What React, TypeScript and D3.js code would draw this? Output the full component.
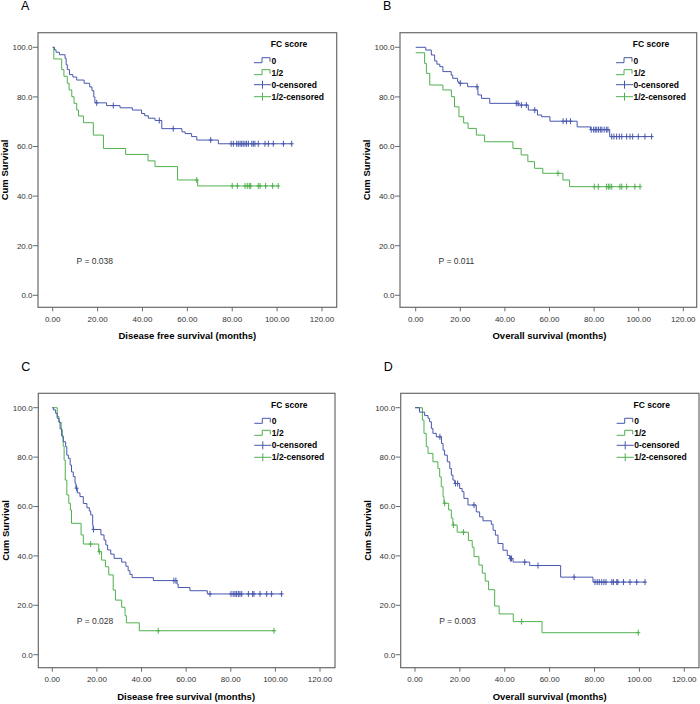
import React from 'react';
import * as d3 from 'd3';

type Step = [number, number];

const xTicks = [0, 20, 40, 60, 80, 100, 120];
const yTicks = [0, 20, 40, 60, 80, 100];
const legendTitle = 'FC score';
const legendLabels = ['0', '1/2', '0-censored', '1/2-censored'];
const panelLetters = ['A', 'B', 'C', 'D'];
const xTitles = [
  'Disease free survival (months)',
  'Overall survival (months)',
  'Disease free survival (months)',
  'Overall survival (months)',
];
const yTitle = 'Cum Survival';
const pValues = ['P = 0.038', 'P = 0.011', 'P = 0.028', 'P = 0.003'];

// Panel A – disease free survival
const aBlueSteps: Step[] = [
  [0, 100], [0.8, 99], [1.5, 98], [3, 97], [5.5, 95.5], [6, 93], [6.5, 91], [7.5, 89], [9, 88],
  [10.7, 86.8], [14, 85.5], [16.5, 84], [17.5, 82.5], [18.3, 80], [18.8, 77.6], [24, 76.5],
  [30, 75.6], [35.5, 74.7], [39.6, 73.3], [41, 72.4], [42.6, 71.4], [45.6, 70.5], [48.6, 67.2],
  [57.6, 65.9], [59, 65.2], [61.9, 64], [64.2, 62.6], [73.8, 61.1],
];
const aBlueCensored = [19.6, 27, 47.5, 53.7, 70.4, 79.5, 80.5, 82, 82.7, 83.5, 84.2, 84.9, 85.7, 86.4,
  87.2, 88.7, 89.4, 90.1, 91.6, 94.6, 96.1, 98.3, 102.8, 106.5];
const aGreenSteps: Step[] = [
  [0, 100], [0.5, 95.3], [4, 91], [5, 88.3], [6.5, 85.5], [7.3, 82.8], [8.5, 80.1], [9.5, 77.4],
  [10.7, 74.7], [11.5, 72.3], [13.7, 69.6], [18.1, 64.6], [22.6, 59.2], [32.5, 56.8], [42.5, 54.2],
  [45.6, 51.9], [55.6, 46.5], [64.6, 44.1],
];
const aGreenCensored = [64.2, 80, 82.3, 85.7, 86.7, 87.6, 88.2, 91.6, 92.4, 94.9, 98, 100.5];

// Panel B – overall survival
const bBlueSteps: Step[] = [
  [0, 100], [4.5, 98.9], [7, 96.9], [8.5, 94.5], [9.5, 93.2], [10.8, 92.2], [12.2, 90.2], [15.9, 88.8],
  [16.6, 87.5], [18.8, 86.1], [19.4, 85.5], [23.3, 84.1], [27.9, 80.8], [29.5, 79.4], [33.2, 77.4],
  [46, 76.7], [50.5, 74.7], [54.6, 72.7], [56.5, 72], [60.2, 70.2], [72.4, 67.9], [78.4, 66.8], [87, 64],
];
const bBlueCensored = [20, 27.5, 45.1, 45.9, 47.4, 49.6, 53.4, 66.1, 67.6, 69.4, 78.7, 79.8, 80.5, 81.2,
  82, 82.8, 83.5, 84.5, 85.5, 86.2, 87.9, 88.9, 90.1, 91.3, 92.4, 94.6, 96.1, 97.3, 99.8, 102.8, 105.8];
const bGreenSteps: Step[] = [
  [0, 97.8], [4, 93.5], [4.8, 89.5], [6.3, 84.8], [12.2, 82.8], [16, 80.1], [17.4, 76], [19.4, 72],
  [21.5, 69.5], [23.5, 67.3], [27.2, 64.6], [30.9, 61.9], [43.6, 59.2], [47.3, 56.6], [50.3, 53.9],
  [53.3, 51.2], [57, 49.2], [66, 46.5], [69, 43.8],
];
const bGreenCensored = [63.8, 80.1, 81.9, 85.6, 86.4, 87.1, 87.9, 91.6, 92.4, 94.6, 98.3, 100.6];

// Panel C – disease free survival
const cBlueSteps: Step[] = [
  [0, 100], [0.5, 99.1], [1.5, 97.7], [2.2, 95.7], [3, 94.3], [3.5, 91.5], [4.2, 88.6], [4.9, 86.2],
  [6, 84.2], [6.5, 80.8], [7.2, 79.5], [8, 76.8], [8.6, 74], [9.4, 72.1], [10.2, 69.4], [10.6, 67.4],
  [11.2, 65.5], [12.4, 64], [13.9, 61.2], [15.5, 59.5], [16.6, 58.2], [17.2, 56.6], [18.1, 52.5],
  [18.3, 50.7], [21.8, 48.5], [23.2, 46.4], [24, 44.4], [24.8, 42.4], [26.2, 40.7], [27.7, 39],
  [31.1, 37.5], [33, 35.8], [34, 34], [34.8, 32.5], [35.8, 31.2], [45.3, 30], [55.9, 28.6], [56.4, 27.2],
  [61.7, 25.9], [69.5, 24.6],
];
const cBlueCensored = [10.9, 18.5, 54.5, 55.4, 70.7, 80.1, 81.1, 81.9, 82.6, 83.4, 84.1, 84.9, 87.9, 89.8,
  90.4, 93.1, 96.1, 98.3, 102.8];
const cGreenSteps: Step[] = [
  [0, 100], [2.2, 96.4], [3, 94], [4, 91], [4.5, 88], [4.9, 84.5], [5.3, 78.8], [5.8, 70.7], [6.5, 64.7],
  [7.4, 61.3], [8.1, 58.6], [8.6, 53.2], [12.9, 48.5], [13.9, 44.8], [20.8, 41.7], [22.1, 38.3],
  [23.8, 35.6], [25.3, 32.3], [27.3, 26.2], [28.3, 22.1], [31.1, 19.2], [32.6, 15.8], [33.2, 12.9],
  [39, 9.7],
];
const cGreenCensored = [17.2, 21.1, 47.5, 99.4];

// Panel D – overall survival
const dBlueSteps: Step[] = [
  [0, 100], [2, 98.2], [4.3, 96.8], [5.8, 95.7], [6.5, 94.3], [7.3, 91.6], [8, 89.6], [9.5, 88.2],
  [11.8, 85.5], [12.5, 82.8], [13.2, 80.8], [14.4, 78.1], [15.5, 75.4], [16.2, 72.7], [16.9, 70.7],
  [17.7, 69.3], [19.9, 67.3], [21, 66], [21.8, 63.3], [23.6, 60.6], [27.3, 57.8], [28.8, 55.8],
  [30.3, 54.2], [34, 52.8], [34.8, 50.4], [35.8, 48.4], [37, 45], [39.2, 42.3], [41.1, 40.2],
  [42.2, 38.9], [43.7, 37.5], [51.1, 36.1], [64.9, 31.4], [79.3, 29.4],
];
const dBlueCensored = [11.1, 18, 19, 26.3, 42.5, 43, 48.9, 54.8, 70.9, 80.2, 81.2, 82.1, 83.2, 84.2, 85.1,
  87.7, 88.4, 89.9, 90.4, 92.9, 95.8, 98.8, 102.5];
const dGreenSteps: Step[] = [
  [0, 100], [3.3, 95], [4, 89.6], [5, 84.2], [5.8, 81.5], [8, 78.1], [10.2, 75.4], [11, 72], [11.7, 68],
  [12.5, 64], [12.9, 61.3], [15, 58.6], [16.2, 55.3], [16.9, 52.5], [18.8, 49.6], [23.8, 46.2],
  [25.5, 43.5], [26.3, 39.7], [28.5, 36.3], [30, 33], [31.3, 29.8], [32.8, 26.3], [35.5, 19.7],
  [37.5, 16.5], [43.8, 13.4], [56.6, 8.9],
];
const dGreenCensored = [13.2, 17.1, 21.6, 47.5, 99.5];

const BLUE = '#4757ad';
const GREEN = '#4fb04f';

interface PanelDef {
  frame: { x0: number; y0: number; x1: number; y1: number };
  xr: [number, number];
  yr: [number, number];
  blue: Step[];
  blueC: number[];
  green: Step[];
  greenC: number[];
}

const panels: PanelDef[] = [
  { frame: { x0: 38, y0: 32.7, x1: 336.7, y1: 307.3 }, xr: [52.7, 322], yr: [295.3, 47.3],
    blue: aBlueSteps, blueC: aBlueCensored, green: aGreenSteps, greenC: aGreenCensored },
  { frame: { x0: 400, y0: 32.7, x1: 696.7, y1: 307.3 }, xr: [415.7, 683.3], yr: [295.3, 47.3],
    blue: bBlueSteps, blueC: bBlueCensored, green: bGreenSteps, greenC: bGreenCensored },
  { frame: { x0: 38.3, y0: 393.3, x1: 335, y1: 667.7 }, xr: [52.3, 320], yr: [654.7, 407.7],
    blue: cBlueSteps, blueC: cBlueCensored, green: cGreenSteps, greenC: cGreenCensored },
  { frame: { x0: 400.7, y0: 393.3, x1: 699, y1: 667.7 }, xr: [415, 684.3], yr: [654.7, 407.7],
    blue: dBlueSteps, blueC: dBlueCensored, green: dGreenSteps, greenC: dGreenCensored },
];

const FONT = '"Liberation Sans", Arial, sans-serif';

function valueAt(steps: Step[], t: number): number {
  let v = steps[0][1];
  for (const [st, sv] of steps) {
    if (st <= t) v = sv;
  }
  return v;
}

function Curve({ steps, censored, x, y, color }: {
  steps: Step[]; censored: number[];
  x: d3.ScaleLinear<number, number>; y: d3.ScaleLinear<number, number>; color: string;
}) {
  const lastT = Math.max(steps[steps.length - 1][0], ...censored);
  const pts: Step[] = [...steps, [lastT, steps[steps.length - 1][1]]];
  const line = d3.line<Step>().x((d) => x(d[0])).y((d) => y(d[1])).curve(d3.curveStepAfter);
  return (
    <g>
      <path d={line(pts) || ''} fill="none" stroke={color} strokeWidth={1} />
      {censored.map((t, i) => {
        const cx = x(t);
        const cy = y(valueAt(steps, t));
        return (
          <g key={i} stroke={color} strokeWidth={1}>
            <line x1={cx} x2={cx} y1={cy - 3} y2={cy + 3} />
            <line x1={cx - 2} x2={cx + 2} y1={cy} y2={cy} />
          </g>
        );
      })}
    </g>
  );
}

function Panel({ p, idx }: { p: PanelDef; idx: number }) {
  const { frame } = p;
  const x = d3.scaleLinear().domain([0, 120]).range(p.xr);
  const y = d3.scaleLinear().domain([0, 100]).range(p.yr);
  const lx = frame.x0 + 216;
  const ly = frame.y0;
  const legendYs = [28, 40, 52, 64];
  return (
    <g>
      <text x={frame.x0 - 17} y={frame.y0 - 22.7} fontFamily={FONT} fontSize={12.5} fill="#000">
        {panelLetters[idx]}
      </text>
      <rect x={frame.x0} y={frame.y0} width={frame.x1 - frame.x0} height={frame.y1 - frame.y0}
        fill="#fff" stroke="#6a6a6a" strokeWidth={1.2} />
      {yTicks.map((t) => (
        <g key={'y' + t}>
          <line x1={frame.x0 - 5} x2={frame.x0} y1={y(t)} y2={y(t)} stroke="#6a6a6a" strokeWidth={1} />
          <text x={frame.x0 - 5.5} y={y(t)} dy="0.35em" textAnchor="end" fontFamily={FONT}
            fontSize={8} fill="#333">{t.toFixed(1)}</text>
        </g>
      ))}
      {xTicks.map((t) => (
        <g key={'x' + t}>
          <line x1={x(t)} x2={x(t)} y1={frame.y1} y2={frame.y1 + 4} stroke="#6a6a6a" strokeWidth={1} />
          <text x={x(t)} y={frame.y1 + 11.7} dy="0.35em" textAnchor="middle" fontFamily={FONT}
            fontSize={8} fill="#333">{t.toFixed(2)}</text>
        </g>
      ))}
      <text x={(p.xr[0] + p.xr[1]) / 2} y={frame.y1 + 28.5} dy="0.35em" textAnchor="middle"
        fontFamily={FONT} fontSize={9.5} fontWeight="bold" fill="#000">{xTitles[idx]}</text>
      <text transform={`translate(${frame.x0 - 33},${(frame.y0 + frame.y1) / 2}) rotate(-90)`}
        textAnchor="middle" dy="0.35em" fontFamily={FONT} fontSize={9.5} fontWeight="bold"
        fill="#000">{yTitle}</text>

      <Curve steps={p.green} censored={p.greenC} x={x} y={y} color={GREEN} />
      <Curve steps={p.blue} censored={p.blueC} x={x} y={y} color={BLUE} />

      <text x={frame.x0 + 38.5} y={frame.y0 + 228} dy="0.35em" fontFamily={FONT} fontSize={8.5}
        fill="#333">{pValues[idx]}</text>

      <text x={frame.x0 + 251} y={ly + 11.5} dy="0.35em" textAnchor="middle" fontFamily={FONT}
        fontSize={8.5} fontWeight="bold" fill="#000">{legendTitle}</text>
      {legendLabels.map((lab, i) => {
        const yy = ly + legendYs[i];
        const color = i % 2 === 0 ? BLUE : GREEN;
        return (
          <g key={lab}>
            {i < 2 ? (
              <path d={`M${lx},${yy + 2} h8 v-5 h8 v4`} fill="none" stroke={color} strokeWidth={1} />
            ) : (
              <g stroke={color} strokeWidth={1}>
                <line x1={lx} x2={lx + 17} y1={yy} y2={yy} />
                <line x1={lx + 8.5} x2={lx + 8.5} y1={yy - 4} y2={yy + 4} />
              </g>
            )}
            <text x={lx + 17.5} y={yy} dy="0.35em" fontFamily={FONT} fontSize={8.5}
              fontWeight="bold" fill="#000">{lab}</text>
          </g>
        );
      })}
    </g>
  );
}

export default function App() {
  return (
    <svg width={700} height={704} viewBox="0 0 700 704"
      style={{ position: 'absolute', left: 0, top: 0, background: '#fff' }}>
      <rect x={0} y={0} width={700} height={704} fill="#fff" />
      {panels.map((p, i) => (
        <Panel key={i} p={p} idx={i} />
      ))}
    </svg>
  );
}
